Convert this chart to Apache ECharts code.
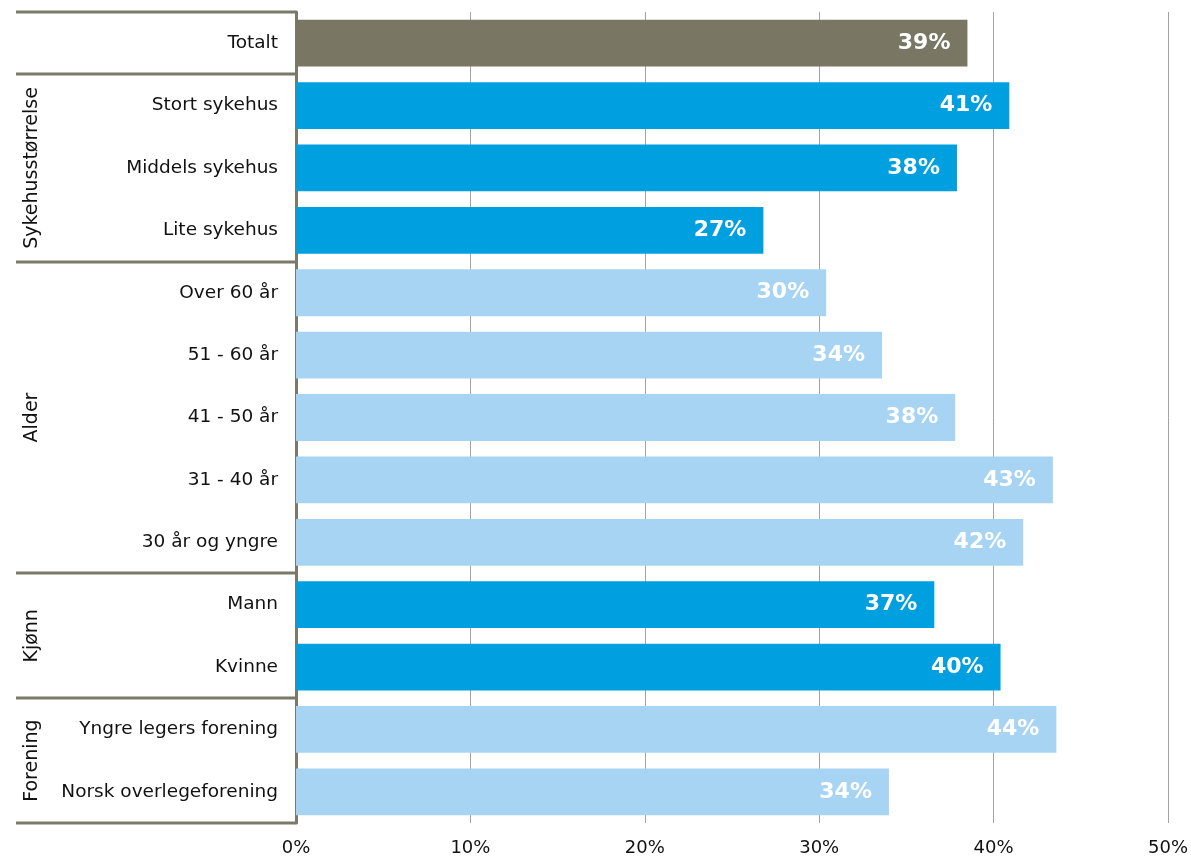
<!DOCTYPE html>
<html>
<head>
<meta charset="utf-8">
<script src="https://cdn.jsdelivr.net/npm/echarts@6/dist/echarts.min.js"></script>
<style>
  html, body { margin: 0; padding: 0; background: #ffffff; }
  #chart { width: 1191px; height: 857px; }
</style>
</head>
<body>
<div id="chart"></div>
<script>
// Share of respondents per background group (percent)
const categories = [
  'Totalt',
  'Stort sykehus', 'Middels sykehus', 'Lite sykehus',
  'Over 60 år', '51 - 60 år', '41 - 50 år', '31 - 40 år', '30 år og yngre',
  'Mann', 'Kvinne',
  'Yngre legers forening', 'Norsk overlegeforening'
];
const values = [38.5, 40.9, 37.9, 26.8, 30.4, 33.6, 37.8, 43.4, 41.7, 36.6, 40.4, 43.6, 34.0];
// Colour role of each bar: total, dark or light blue
const shades = ['total', 'dark', 'dark', 'dark', 'light', 'light', 'light', 'light', 'light', 'dark', 'dark', 'light', 'light'];

// Group headings on the left: name, first category index, number of categories
const groupNames = ['Sykehusstørrelse', 'Alder', 'Kjønn', 'Forening'];
const groupStarts = [1, 4, 9, 11];
const groupSizes = [3, 5, 2, 2];

const xTicks = [0, 10, 20, 30, 40, 50];

const palette = { total: '#797764', dark: '#009fe0', light: '#a8d4f3' };
const frameColor = '#7b7a68';
const font = 'DejaVu Sans, Verdana, sans-serif';
const textColor = '#111111';

const chart = echarts.init(document.getElementById('chart'), null, { renderer: 'canvas' });

const option = {
  animation: false,
  backgroundColor: '#ffffff',
  grid: { left: 296, right: 23, top: 12, bottom: 34, containLabel: false },
  xAxis: {
    type: 'value',
    min: xTicks[0],
    max: xTicks[xTicks.length - 1],
    interval: xTicks[1] - xTicks[0],
    axisLine: { show: false },
    axisTick: { show: false },
    splitLine: { show: true, lineStyle: { color: '#a4a39b', width: 1 } },
    axisLabel: {
      formatter: '{value}%',
      fontFamily: font,
      fontSize: 18,
      color: textColor,
      margin: 16
    }
  },
  yAxis: {
    type: 'category',
    data: categories,
    inverse: true,
    axisLine: { show: true, lineStyle: { color: frameColor, width: 3 } },
    axisTick: { show: false },
    splitLine: { show: false },
    axisLabel: {
      fontFamily: font,
      fontSize: 18.5,
      color: textColor,
      margin: 18
    }
  },
  series: [{
    type: 'bar',
    data: values.map((v, i) => ({ value: v, itemStyle: { color: palette[shades[i]] } })),
    barCategoryGap: '25%',
    z: 3,
    label: {
      show: true,
      position: 'insideRight',
      distance: 17,
      formatter: p => Math.round(p.value) + '%',
      fontFamily: font,
      fontWeight: 'bold',
      fontSize: 22,
      color: '#ffffff'
    }
  }]
};

chart.setOption(option);

// Frame lines and rotated group headings on the left, placed from the category scale
function bandEdge(index) {
  // pixel y of the upper edge of a category band (index may equal the count for the bottom edge)
  const step = chart.convertToPixel({ yAxisIndex: 0 }, categories[1]) - chart.convertToPixel({ yAxisIndex: 0 }, categories[0]);
  return chart.convertToPixel({ yAxisIndex: 0 }, categories[0]) - step / 2 + step * index;
}

const axisX = chart.convertToPixel({ xAxisIndex: 0 }, 0);
const lineLeft = 16;
const edges = [0, 1];
groupStarts.forEach((s, i) => edges.push(s + groupSizes[i]));

const graphics = [];
edges.forEach(k => {
  const y = Math.round(bandEdge(k));
  graphics.push({
    type: 'line',
    shape: { x1: lineLeft, y1: y, x2: axisX, y2: y },
    style: { stroke: frameColor, lineWidth: 3 },
    z: 10
  });
});
groupNames.forEach((name, i) => {
  const yMid = (bandEdge(groupStarts[i]) + bandEdge(groupStarts[i] + groupSizes[i])) / 2;
  graphics.push({
    type: 'text',
    x: 32,
    y: yMid,
    rotation: Math.PI / 2,
    style: {
      text: name,
      fontFamily: font,
      fontSize: 19,
      fill: textColor,
      align: 'center',
      verticalAlign: 'middle'
    },
    z: 10
  });
});

chart.setOption({ graphic: graphics });
</script>
</body>
</html>
